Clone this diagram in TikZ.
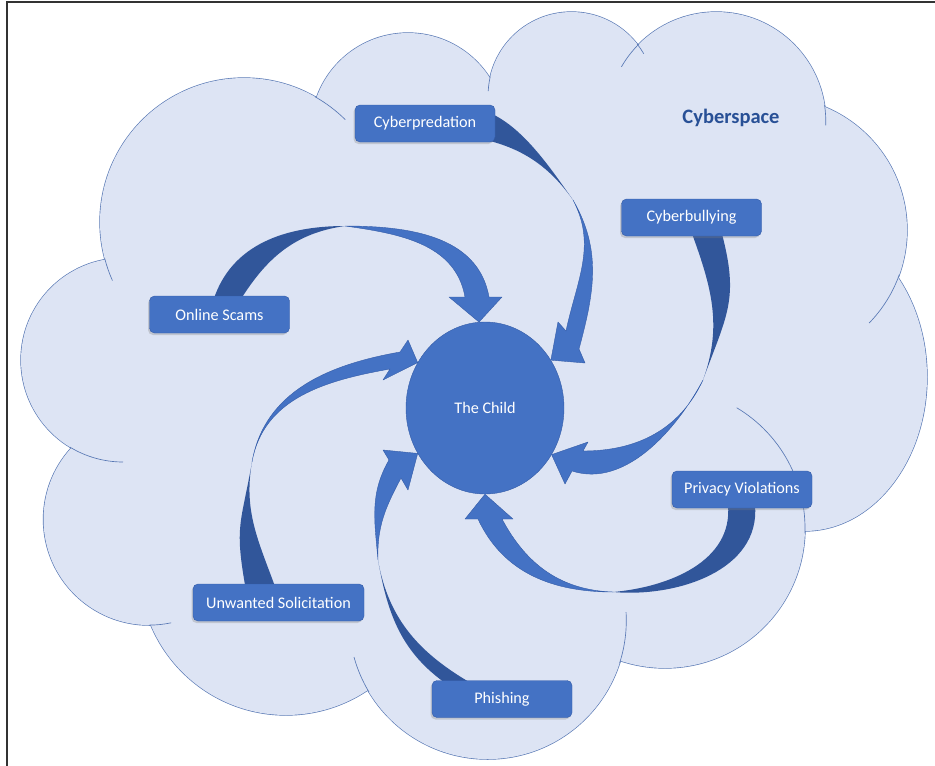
\documentclass[tikz,border=0pt]{standalone}
\usepackage{fontspec}
\setmainfont{Carlito}
\usetikzlibrary{shapes.geometric,shadows,backgrounds}

\definecolor{cloudfill}{RGB}{221,228,244}
\definecolor{cloudline}{RGB}{88,120,180}
\definecolor{boxblue}{RGB}{68,114,196}
\definecolor{boxline}{RGB}{52,92,168}
\definecolor{banddark}{RGB}{49,86,154}
\definecolor{spacetext}{RGB}{40,80,150}

\tikzset{
  threat/.style={draw=boxline, fill=boxblue, rounded corners=5pt, minimum width=140pt, minimum height=37pt,
    text=white, font=\fontsize{16.2}{19}\selectfont,
    drop shadow={shadow xshift=-1.5pt, shadow yshift=-2pt, opacity=0.3}},
  childnode/.style={ellipse, draw=boxline, fill=boxblue, minimum width=158pt, minimum height=172pt,
    inner sep=0pt, text=white, font=\fontsize{16.2}{19}\selectfont},
  bump/.style={fill=cloudfill, draw=cloudline, line width=1.3pt},
  stub/.style={draw=cloudline, line width=0.65pt},
  band/.style={fill=boxblue, draw=boxline, line width=0.4pt, line join=round},
}

\begin{document}
\begin{tikzpicture}[x=1pt,y=1pt]
\useasboundingbox (0,0) rectangle (935,-766);

\node[childnode] (child) at (485,-408) {The Child};
\node[threat] (predation) at (425,-123.5) {Cyberpredation};
\node[threat] (bullying) at (691.5,-217.5) {Cyberbullying};
\node[threat] (scams) at (219.5,-314.5) {Online Scams};
\node[threat] (privacy) at (742,-489.5) {Privacy Violations};
\node[threat, minimum width=171pt] (solicit) at (278.5,-602.5) {Unwanted Solicitation};
\node[threat] (phishing) at (502,-699) {Phishing};
\node[font=\bfseries\fontsize{20.5}{24}\selectfont, text=spacetext] (space) at (731,-118) {Cyberspace};

\begin{scope}[on background layer]
% cloud
\foreach \cx/\cy/\rx/\ry in {244/-222/144/144, 408/-130/97/97, 571.5/-95.4/83.4/83.4,
    716.3/-121.5/109.5/109.5, 773.8/-230/133.2/133.2, 804.6/-377/122.4/154, 665/-528/140/140,
    487.7/-620.5/138.6/138.6, 286/-568.5/146.5/146.5, 149.2/-519.4/105.7/105.7, 123/-360/102/102}
  \draw[bump] (\cx,\cy) ellipse [x radius=\rx, y radius=\ry];
\foreach \cx/\cy/\rx/\ry in {244/-222/144/144, 408/-130/97/97, 571.5/-95.4/83.4/83.4,
    716.3/-121.5/109.5/109.5, 773.8/-230/133.2/133.2, 804.6/-377/122.4/154, 665/-528/140/140,
    487.7/-620.5/138.6/138.6, 286/-568.5/146.5/146.5, 149.2/-519.4/105.7/105.7, 123/-360/102/102}
  \fill[cloudfill] (\cx,\cy) ellipse [x radius=\rx, y radius=\ry];
\fill[cloudfill] (105,-261) -- (316,-100) -- (490,-78) -- (638,-45) -- (825,-107) -- (897,-276)
  -- (805,-531) -- (620,-660) -- (368,-690) -- (151,-625) -- (71,-448) -- cycle;
\foreach \cx/\cy/\r/\a/\b in {244/-222/144/194.7/204, 244/-222/144/60.5/45.3,
    571.5/-95.4/83.4/167/177, 571.5/-95.4/83.4/38.2/30, 716.3/-121.5/109.5/134.7/150,
    716.3/-121.5/109.5/8.6/-2, 773.8/-230/133.2/-19.5/-44.3, 665/-528/140/-2.2/59.2,
    487.7/-620.5/138.6/-17.9/3.5, 487.7/-620.5/138.6/-148.9/-164.7,
    149.2/-519.4/105.7/-90.1/-78, 123/-360/102/-121.4/-90}
  \draw[stub] ([shift={(\a:\r)}]\cx,\cy) arc [start angle=\a, end angle=\b, radius=\r];

% curved arrows
\fill[banddark] ([xshift=-6pt,yshift=-4pt]scams.north) to[out=72,in=180] (345,-226)
  to[out=188,in=58] ([xshift=21pt,yshift=-4pt]scams.north) -- cycle;
\filldraw[band] (345,-226) to[out=0,in=100] (489,-297) -- (502,-297) -- (child.94) -- (449,-297)
  -- (465,-297) to[out=100,in=-8] (345,-226) -- cycle;

\fill[banddark] ([xshift=12pt,yshift=12pt]predation.center) to[out=20,in=125] (573,-200)
  to[out=125,in=-5] ([xshift=25pt,yshift=-11pt]predation.center) -- cycle;
\filldraw[band] (573,-200) to[out=-60,in=75] (579,-349) -- (585,-363) -- (child.36) -- (558,-322)
  -- (566,-331) to[out=78,in=-62] (573,-200) -- cycle;

\fill[banddark] ([xshift=30pt,yshift=4pt]bullying.south) to[out=-75,in=70,looseness=1.2] (703,-380)
  to[out=70,in=-70] ([yshift=4pt]bullying.south) -- cycle;
\filldraw[band] (703,-380) to[out=-118,in=-18,looseness=0.9] (572,-471) -- (565,-484) -- (child.-35)
  -- (588,-442) -- (583,-451) to[out=0,in=-115] (703,-380) -- cycle;

\fill[banddark] ([xshift=13pt,yshift=3pt]privacy.south) to[out=-85,in=-5] (613,-592)
  to[out=5,in=-85] ([xshift=-14pt,yshift=3pt]privacy.south) -- cycle;
\filldraw[band] (613,-592) to[out=180,in=-65] (478,-519) -- (465,-519) -- (child.-90) -- (513,-519)
  -- (502,-519) to[out=-62,in=178] (613,-592) -- cycle;

\fill[banddark] ([xshift=-55pt,yshift=-4pt]phishing.north) to[out=145,in=-80] (378,-560)
  to[out=-80,in=150] ([xshift=-29pt,yshift=-4pt]phishing.north) -- cycle;
\filldraw[band] (378,-560) to[out=95,in=-120] (389,-460) -- (383,-450) -- (child.214) -- (408,-490)
  -- (401,-478) to[out=-118,in=92] (378,-560) -- cycle;

\fill[banddark] ([xshift=-33pt,yshift=-4pt]solicit.north) to[out=100,in=-100,looseness=1.3] (252,-462)
  to[out=-100,in=110] ([xshift=-3pt,yshift=-4pt]solicit.north) -- cycle;
\filldraw[band] (252,-462) to[out=80,in=190] (400,-352) -- (408,-340) -- (child.146.5) -- (383,-380)
  -- (390,-369) to[out=190,in=80] (252,-462) -- cycle;
\end{scope}

\draw[line width=1.2pt, black!80] (7,-766) -- (7,-2) -- (935,-2);
\end{tikzpicture}
\end{document}
